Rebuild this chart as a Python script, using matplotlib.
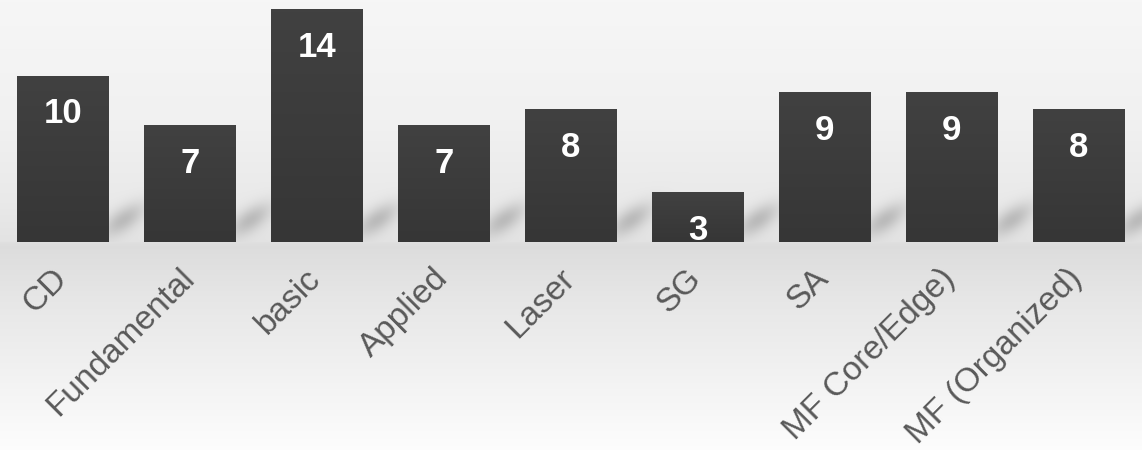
import numpy as np
import matplotlib
matplotlib.use("Agg")
import matplotlib.pyplot as plt
import matplotlib.transforms as mtransforms

plt.rcParams['font.family'] = ['Liberation Sans', 'DejaVu Sans']

# data
categories = ['CD', 'Fundamental', 'basic', 'Applied', 'Laser', 'SG', 'SA',
              'MF Core/Edge)', 'MF (Organized)']
values = [10, 7, 14, 7, 8, 3, 9, 9, 8]

W, H = 1142, 450
base_px = 242          # baseline, px from top
unit_px = 16.65        # px per unit

fig = plt.figure(figsize=(W / 100, H / 100), dpi=100)
bg = fig.add_axes([0, 0, 1, 1], zorder=0)
bg.axis('off')
ax = fig.add_axes([0, 1 - base_px / H, 1, base_px / H], zorder=1)
ax.patch.set_alpha(0)

x = np.arange(len(values))
bars = ax.bar(x, values, width=0.725, color='#3a3a3a', zorder=2)
ax.set_xlim(-0.5, len(values) - 0.5)
ax.set_ylim(0, base_px / unit_px)

# subtle vertical gradient on bars
grad = np.linspace(0, 1, 64).reshape(-1, 1)
top_c = np.array([0x41, 0x41, 0x41]) / 255
bot_c = np.array([0x36, 0x36, 0x36]) / 255
grad_img = top_c[None, None, :] * (1 - grad[..., None]) + bot_c[None, None, :] * grad[..., None]
for b in bars:
    im = ax.imshow(grad_img, extent=[b.get_x(), b.get_x() + b.get_width(), 0, b.get_height()],
                   aspect='auto', origin='upper', zorder=2.1)
    im.set_clip_path(b)
ax.set_xlim(-0.5, len(values) - 0.5)
ax.set_ylim(0, base_px / unit_px)

for xi, v in zip(x, values):
    ax.text(xi, v - 2.3, str(v), ha='center', va='center', color='white',
            fontsize=25, fontweight='bold', clip_on=True, zorder=4)

ax.set_xticks(x)
ax.set_xticklabels(categories, rotation=45, ha='right', va='top',
                   fontsize=24, color='#595959')
ax.tick_params(axis='x', length=0, pad=15)
shift = mtransforms.ScaledTranslation(10 / 100, 0, fig.dpi_scale_trans)
for lab in ax.get_xticklabels():
    lab.set_transform(lab.get_transform() + shift)
ax.set_yticks([])
for s in ax.spines.values():
    s.set_visible(False)

# background: vertical gradient + soft shadows beside bars
ys = np.arange(H)
prof = np.interp(ys, [0, 120, 200, 241, 242, 246, 300, 360, 420, 449],
                 [0.965, 0.945, 0.915, 0.89, 0.875, 0.865, 0.905, 0.94, 0.975, 0.99])
img = np.tile(prof[:, None], (1, W))
xx, yy = np.meshgrid(np.arange(W), ys)
ang = np.deg2rad(-35)
for b in bars:
    right = ax.transData.transform((b.get_x() + b.get_width(), 0))[0]
    cx, cy = right + 14, 219
    dx, dy = xx - cx, yy - cy
    u = dx * np.cos(ang) + dy * np.sin(ang)
    w = -dx * np.sin(ang) + dy * np.cos(ang)
    blob = np.exp(-(u / 24) ** 2 - (w / 11) ** 2)
    blob[yy >= base_px] = 0
    img = img - 0.17 * blob
img = np.clip(img, 0, 1)
bg.imshow(np.dstack([img] * 3), extent=[0, W, 0, H], origin='upper', aspect='auto')
bg.set_xlim(0, W)
bg.set_ylim(0, H)

fig.savefig('out.png', dpi=100)
